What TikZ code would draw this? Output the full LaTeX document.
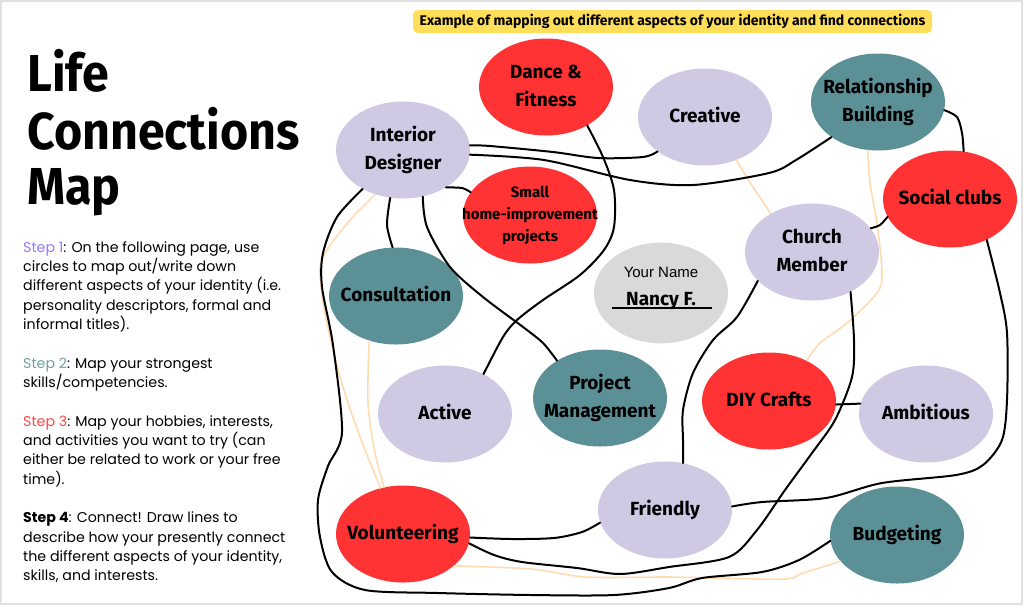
\documentclass[tikz,border=0pt]{standalone}
\usepackage{fontspec}
\usepackage{xcolor}
\usepackage{tikz}
\usetikzlibrary{shapes.geometric}
\setmainfont{Poppins}
\newfontfamily\handfont{Fira Sans}
\newfontfamily\titlefont[FakeStretch=0.93]{Fira Sans}
\newfontfamily\arialfont{Liberation Sans}
\definecolor{lavbg}{RGB}{208,201,227}
\definecolor{hobred}{RGB}{255,51,51}
\definecolor{skillteal}{RGB}{92,144,151}
\definecolor{namegray}{RGB}{217,217,217}
\definecolor{banneryel}{RGB}{255,222,89}
\definecolor{peach}{RGB}{255,219,178}
\definecolor{steppurple}{RGB}{150,120,240}
\definecolor{stepteal}{RGB}{110,160,165}
\definecolor{stepred}{RGB}{255,70,70}
\newcommand{\inlab}[1]{\makebox[0pt]{\begin{tabular}{@{}c@{}}#1\end{tabular}}}

\begin{document}
\begin{tikzpicture}[x=1pt, y=-1pt,
  bubble/.style={ellipse, minimum width=134pt, minimum height=97pt, inner sep=0pt, font=\handfont\bfseries\fontsize{19}{28}\selectfont},
  idnode/.style={bubble, fill=lavbg},
  skillnode/.style={bubble, fill=skillteal},
  hobbynode/.style={bubble, fill=hobred},
  link/.style={line width=2pt, line cap=round, line join=round},
  faint/.style={peach, line width=1.6pt, line cap=round}]
\useasboundingbox (0,0) rectangle (1024,606);
\draw[black!12, line width=2pt] (1,1) rectangle (1022,604);

\node (title) [anchor=base west, inner sep=0pt, font=\titlefont\bfseries\fontsize{52}{55}\selectfont] at (27,91) {\begin{tabular}[t]{@{}l@{}}Life\\Connections\\Map\end{tabular}};
\node (steps) [anchor=base west, inner sep=0pt, font=\fontsize{14.2}{19.35}\selectfont] at (23,252) {\begin{tabular}[t]{@{}l@{}}
\textcolor{steppurple}{Step 1}: On the following page, use\\
circles to map out/write down\\
different aspects of your identity (i.e.\\
personality descriptors, formal and\\
informal titles).\\
\\
\textcolor{stepteal}{Step 2}: Map your strongest\\
skills/competencies.\\
\\
\textcolor{stepred}{Step 3}: Map your hobbies, interests,\\
and activities you want to try (can\\
either be related to work or your free\\
time).\\
\\
\textbf{Step 4}: Connect! Draw lines to\\
describe how your presently connect\\
the different aspects of your identity,\\
skills, and interests.
\end{tabular}};

\node (banner) [fill=banneryel, rounded corners=5pt, minimum width=519pt, minimum height=23pt, inner sep=0pt, font=\handfont\bfseries\fontsize{14}{16}\selectfont] at (672.5,21.5) {Example of mapping out different aspects of your identity and find connections};

% circles
\node (intd) [idnode] at (403,150) {\inlab{Interior\\Designer}};
\node (dance) [hobbynode] at (546,87) {\inlab{Dance \&\\Fitness}};
\node (creat) [idnode] at (705,117) {\inlab{Creative}};
\node (relb) [skillnode] at (878,102) {\inlab{Relationship\\Building}};
\node (social) [hobbynode] at (950,199) {\inlab{Social clubs}};
\node (shp) [hobbynode, font=\handfont\bfseries\fontsize{15}{22}\selectfont] at (530,215) {\inlab{Small\\home-improvement\\projects}};
\node (church) [idnode] at (812,252) {\inlab{Church\\Member}};
\node (yname) [bubble, fill=namegray] at (661,293) {\inlab{{\arialfont\mdseries\fontsize{15}{18}\selectfont Your Name}\\Nancy F.\rule[-23.6pt]{0pt}{1pt}}};
\node (consult) [skillnode] at (396,296) {\inlab{Consultation}};
\node (active) [idnode] at (445,414) {\inlab{Active}};
\node (pm) [skillnode] at (600,398) {\inlab{Project\\Management}};
\node (diy) [hobbynode] at (769,401) {\inlab{DIY Crafts}};
\node (ambit) [idnode] at (926,414) {\inlab{Ambitious}};
\node (friend) [idnode] at (665,510) {\inlab{Friendly}};
\node (volun) [hobbynode] at (403,534) {\inlab{Volunteering}};
\node (budget) [skillnode] at (897,535) {\inlab{Budgeting}};

\draw[line width=1.6pt] ([xshift=-49pt, yshift=-15pt]yname.center) -- ([xshift=51pt, yshift=-15pt]yname.center);

% light connections
\draw[faint] plot[smooth] coordinates {(intd.238) (350,220) (327,250) (320,270) (325,313) (340,377) (360,437) (volun.116)};
\draw[faint] plot[smooth] coordinates {(consult.239) (368,403) (375,453) (volun.112)};
\draw[faint] plot[smooth] coordinates {(creat.-54) (753,187) (church.137)};
\draw[faint] plot[smooth] coordinates {(relb.258) (870,183) (877,223) (882,273) (877,293) (847,323) (820,343) (diy.47)};
\draw[faint] plot[smooth] coordinates {(volun.-32) (531,569) (586,577) (669,577) (715,578) (785,579) (803,573) (budget.205)};

% strong connections
\draw[link] plot[smooth] coordinates {(intd.4) (490,146) (553,152) (598,158) (643,157) (creat.216)};
\draw[link] plot[smooth] coordinates {(intd.-4) (544,160) (630,180) (693,185) (769,173) (796,160) (relb.217)};
\draw[link] plot[smooth] coordinates {(dance.-43) (603,157) (614,190) (614,227) (604,250) (580,275) (543,300) (517,320) (503,337) (active.46)};
\draw[link] plot[smooth] coordinates {(intd.-41) (462,188) (shp.159)};
\draw[link] plot[smooth] coordinates {(intd.-105) (387,225) (consult.94)};
\draw[link] plot[smooth] coordinates {(intd.-67) (427,227) (450,267) (483,297) (523,327) (543,343) (pm.139)};
\draw[link] plot[smooth] coordinates {(intd.224) (337,217) (323,253) (322,287) (333,345) (342,432) (328,466) (318,500) (320,537) (332,572) (365,590) (438,593) (531,595) (614,595) (669,588) (702,578) (762,572) (799,560) (budget.185)};
\draw[link] plot[smooth] coordinates {(volun.-3) (512,539) (554,538) (582,532) (friend.191)};
\draw[link] plot[smooth] coordinates {(volun.-8) (494,555) (522,562) (577,568) (620,574) (669,567) (729,557) (757,530) (785,490) (812,453) (835,420) (852,377) (854,340) (church.-46)};
\draw[link] plot[smooth] coordinates {(friend.3) (762,502) (826,498) (882,483) (956,475) (983,465) (1002,440) (1007,400) (1007,333) (1000,293) (social.-48)};
\draw[link] plot[smooth] coordinates {(church.208) (737,317) (713,340) (693,373) (683,410) (683,440) (friend.69)};
\draw[link] plot[smooth] coordinates {(church.22) (880,225) (social.196)};
\draw[link] plot[smooth] coordinates {(relb.-7) (957,117) (962,133) (social.74)};
\draw[link] (diy.-3) -- (ambit.171);
\end{tikzpicture}
\end{document}
